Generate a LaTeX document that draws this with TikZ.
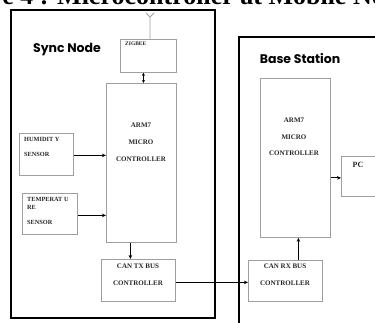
\documentclass[tikz,border=0pt]{standalone}
\usepackage{fontspec}
\setmainfont{Liberation Serif}
\newfontfamily\headfont{Poppins}
\usepackage{tikz}
\usetikzlibrary{arrows.meta,positioning}

\begin{document}
\begin{tikzpicture}[x=1pt, y=-1pt,
  frame/.style={draw=black, line width=1.6pt},
  box/.style={draw=gray!75, line width=0.8pt, anchor=north west, inner sep=0pt},
  txt/.style={font=\bfseries\fontsize{7}{17}\selectfont, text=black!85, align=center, inner sep=0pt},
  ltxt/.style={txt, align=left, anchor=north west},
  head/.style={font=\headfont\bfseries\fontsize{12.5}{14}\selectfont, inner sep=0pt},
  arr/.style={-{Stealth[length=4pt,width=3.5pt]}, line width=0.9pt},
  dblarr/.style={{Stealth[length=3pt,width=3pt]}-{Stealth[length=3pt,width=3pt]}, line width=0.9pt},
  wire/.style={draw=gray!75, line width=0.8pt}
]
  \useasboundingbox (0,0) rectangle (375,323);
  \clip (0,0) rectangle (375,323);

  % Caption (cut off at the top)
  \node[anchor=base west, inner sep=0pt, font=\bfseries\fontsize{26}{26}\selectfont] (title) at (57,5) {\llap{Figure 4 : }Microcontroller at Mobile Node};

  % Sync node
  \draw[frame] (11,10) rectangle (215,318);
  \node[head] (synclbl) at (67,50) {Sync Node};
  \node[box, minimum width=56pt, minimum height=33pt] (zig) at (120,39) {};
  \node[ltxt, font=\bfseries\fontsize{5.5}{6}\selectfont] (ziglbl) at (125,42) {ZIGBEE};
  \node[box, minimum width=70pt, minimum height=159pt] (armS) at (106,83) {};
  \node[txt] (armSlbl) at (141,142) {ARM7\\MICRO\\CONTROLLER};
  \node[box, minimum width=54pt, minimum height=42pt] (hum) at (19,133) {};
  \node[ltxt, font=\bfseries\fontsize{6.3}{15}\selectfont] (humlbl) at (24,137) {HUMIDIT Y\\SENSOR};
  \node[box, minimum width=55pt, minimum height=41pt] (temp) at (22,193) {};
  \node[ltxt, font=\bfseries\fontsize{6.3}{8.5}\selectfont] (templbl) at (27,197) {TEMPERAT U\\RE\\[6.5pt]SENSOR};
  \node[box, minimum width=74pt, minimum height=42pt] (canTX) at (101,259) {};
  \node[txt] (canTXlbl) at (138,275) {CAN TX BUS\\CONTROLLER};

  % antenna
  \coordinate (ant) at (150,17);
  \draw[wire] (zig.north -| ant) -- (ant) -- ++(-4,-4) (ant) -- ++(4,-4);

  % Base station
  \draw[frame] (239,37) rectangle (420,360);
  \node[head] (baselbl) at (300,59) {Base Station};
  \node[box, minimum width=70pt, minimum height=159pt] (armB) at (260,78) {};
  \node[txt, font=\bfseries\fontsize{7}{16.5}\selectfont] (armBlbl) at (294,137) {ARM7\\MICRO\\CONTROLLER};
  \node[box, minimum width=50pt, minimum height=40pt] (pc) at (341,156) {};
  \node[txt, font=\bfseries\fontsize{8}{9}\selectfont] (pclbl) at (358,165) {PC};
  \node[box, minimum width=74pt, minimum height=41pt] (canRX) at (248,260) {};
  \node[txt] (canRXlbl) at (285,275) {CAN RX BUS\\CONTROLLER};

  % Arrows
  \draw[dblarr] ([xshift=-5pt]zig.south) -- ([xshift=-5pt]zig.south |- armS.north);
  \draw[arr] ([yshift=-1pt]hum.east) -- ([yshift=-1pt]hum.east -| armS.west);
  \draw[arr] ([yshift=-1.5pt]temp.east) -- ([yshift=-1.5pt]temp.east -| armS.west);
  \draw[arr] ([xshift=-8pt]canTX.north |- armS.south) -- ([xshift=-8pt]canTX.north);
  \draw[arr] ([yshift=-2pt]canTX.east) -- ([yshift=-2pt]canTX.east -| canRX.west);
  \draw[arr] ([xshift=13pt]canRX.north) -- ([xshift=13pt]canRX.north |- armB.south);
  \draw[arr] ([yshift=-20pt]armB.east) -- ([yshift=-20pt]armB.east -| pc.west);
\end{tikzpicture}
\end{document}
